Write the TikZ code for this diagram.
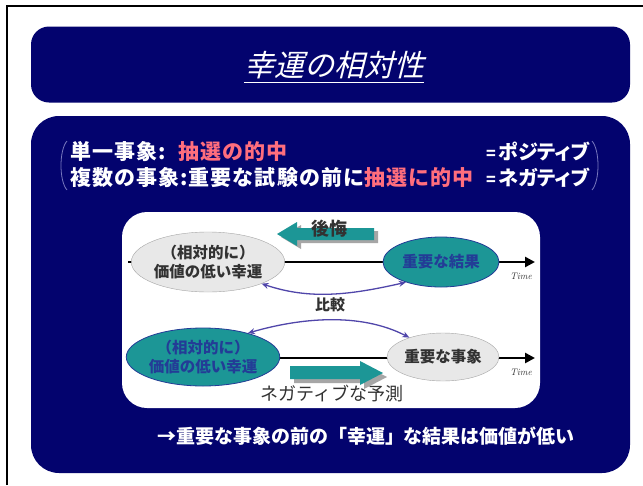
\documentclass[tikz,border=0pt]{standalone}
\usepackage{fontspec}
\newfontfamily\jp{Noto Sans CJK JP}
\newfontfamily\jpw[LetterSpace=5]{Noto Sans CJK JP}
\newfontfamily\jpp[RawFeature=+palt]{Noto Sans CJK JP}
\newfontfamily\jpslant[FakeSlant=0.25]{Noto Sans CJK JP}
\usetikzlibrary{shapes.geometric,arrows.meta}
\definecolor{navy}{RGB}{3,3,110}
\definecolor{tealc}{RGB}{28,150,150}
\definecolor{pinkred}{RGB}{255,110,125}
\definecolor{purp}{RGB}{80,70,170}
\definecolor{ellgray}{RGB}{232,232,232}
\definecolor{dblue}{RGB}{35,60,150}
\definecolor{brk}{RGB}{120,120,190}
\definecolor{txtgray}{RGB}{50,50,50}
\begin{document}
\begin{tikzpicture}[x=1pt,y=-1pt,
  panel/.style={fill=navy, inner sep=0pt},
  hdr/.style={text=white, font=\jpw\bfseries\fontsize{21}{23}\selectfont, anchor=west, inner sep=0pt},
  hdrp/.style={text=white, font=\jpp\bfseries\fontsize{20}{23}\selectfont, anchor=west, inner sep=0pt},
  ellg/.style={ellipse, draw=gray!70, fill=ellgray, inner sep=0pt, align=center, text=txtgray, font=\jp\bfseries\fontsize{15.5}{19}\selectfont},
  ellt/.style={ellipse, draw=dblue, line width=0.8pt, fill=tealc, inner sep=0pt, align=center, text=dblue, font=\jp\bfseries\fontsize{15.5}{19}\selectfont},
  timeline/.style={line width=2.6pt, -{Triangle[length=10pt,width=10pt]}},
  cmp/.style={purp, line width=1.3pt, {Stealth[length=7pt,width=6pt]}-{Stealth[length=7pt,width=6pt]}},
  timelbl/.style={font=\itshape\fontsize{9.5}{9.5}\selectfont, text=txtgray, inner sep=0pt},
  lbl/.style={text=txtgray, inner sep=0pt}
]
\useasboundingbox (0,0) rectangle (643,485);
\fill[white] (0,0) rectangle (643,485);
\draw[black, line width=1.2pt] (7,485) -- (7,6) -- (643,6);

% title panel
\node (titlebox) [panel, rounded corners=18pt, minimum width=599pt, minimum height=76pt] at (330.5,64.5) {};
\node (title) [text=white, font=\jpslant\fontsize{30}{32}\selectfont, inner sep=0pt] at (334,65) {幸運の相対性};
\draw[white, line width=0.8pt] ([yshift=-3pt]title.south west) -- ([yshift=-3pt]title.south east);

% main panel
\node (mainbox) [panel, rounded corners=28pt, minimum width=599pt, minimum height=357pt] at (330.5,294.5) {};

% brackets
\draw[brk, line width=0.8pt] (67,141) .. controls (59,150) and (59,181) .. (67,190);
\draw[brk, line width=0.8pt] (592,141) .. controls (600,150) and (600,181) .. (592,190);

% text lines
\node (l1a) [hdr] at (70,152) {単一事象:};
\node (l1b) [hdr, text=pinkred] at (178,152) {抽選の的中};
\node (l1c) [hdrp] at (486,152) {\fontsize{16}{16}\selectfont=\,\fontsize{20}{23}\selectfont ポジティブ};
\node (l2a) [hdr] at (70,178) {複数の事象:重要な試験の前に\textcolor{pinkred}{抽選に的中}};
\node (l2c) [hdrp] at (486,178) {\fontsize{16}{16}\selectfont=\,\fontsize{20}{23}\selectfont ネガティブ};

% white panel
\node (whitebox) [fill=white, rounded corners=25pt, minimum width=418pt, minimum height=196pt, inner sep=0pt] at (331,310) {};

% top timeline
\coordinate (t1s) at (128,262);
\coordinate (t1e) at (535,262);
\draw[timeline] (t1s) -- (t1e);
\node (time1) [timelbl] at (521,276) {Time};

% regret block arrow (left)
\fill[gray!70] (281,237) -- (301,225) -- (301,231) -- (378,231) -- (378,243) -- (301,243) -- (301,249) -- cycle;
\fill[tealc] (277,234) -- (297,222) -- (297,228) -- (374,228) -- (374,240) -- (297,240) -- (297,246) -- cycle;
\node (regret) [lbl, font=\jp\bfseries\fontsize{18}{18}\selectfont] at (329,229) {後悔};

\node (e1) [ellg, minimum width=124pt, minimum height=60pt] at (208,262) {（相対的に）\\価値の低い幸運};
\node (e2) [ellt, minimum width=116pt, minimum height=50pt] at (441,262) {重要な結果};

\draw[cmp] (e1.-22) .. controls (310,300) and (350,295) .. (e2.-150);
\node (cmp1) [lbl, font=\jp\bfseries\fontsize{15}{15}\selectfont] at (330,305) {比較};

% bottom timeline
\coordinate (t2s) at (128,358);
\coordinate (t2e) at (535,358);
\draw[timeline] (t2s) -- (t2e);
\node (time2) [timelbl] at (521,372) {Time};

\node (e3) [ellt, minimum width=124pt, minimum height=58pt] at (203,357) {（相対的に）\\価値の低い幸運};
\node (e4) [ellg, minimum width=112pt, minimum height=48pt] at (443,357) {重要な事象};

\draw[cmp] (e3.28) .. controls (300,318) and (360,312) .. (e4.150);

% negative prediction block arrow (right)
\fill[gray!70] (294,370) -- (364,370) -- (364,365) -- (387,377) -- (364,389) -- (364,383) -- (294,383) -- cycle;
\fill[tealc] (290,366) -- (360,366) -- (360,361) -- (383,373) -- (360,385) -- (360,379) -- (290,379) -- cycle;
\node (pred) [lbl, font=\jp\fontsize{18}{18}\selectfont] at (332,394) {ネガティブな予測};

% conclusion
\node (concl) [text=white, font=\jp\bfseries\fontsize{19}{21}\selectfont, inner sep=0pt] at (366,436) {→重要な事象の前の「幸運」な結果は価値が低い};
\end{tikzpicture}
\end{document}
